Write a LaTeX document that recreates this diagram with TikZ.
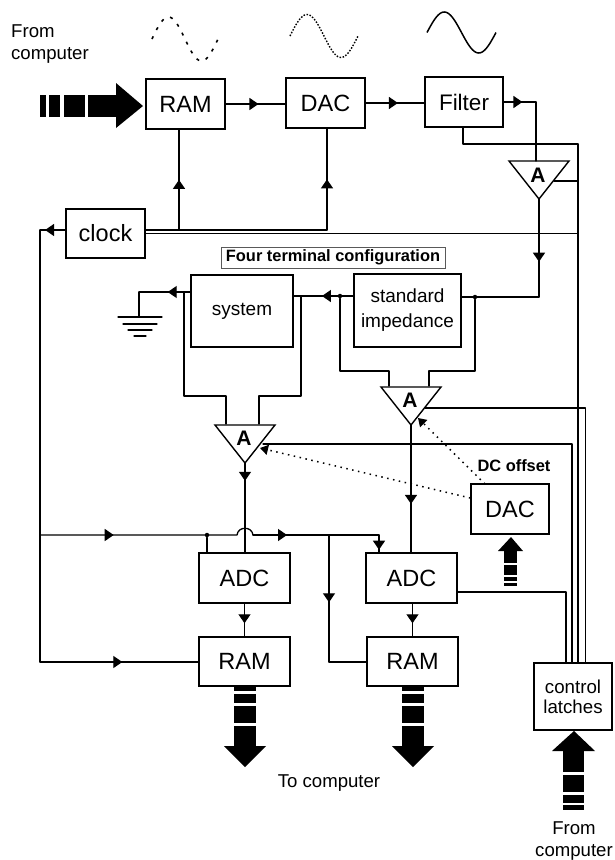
\documentclass[tikz,border=0pt]{standalone}
\usepackage{fontspec}
\setmainfont{Liberation Sans}
\usetikzlibrary{arrows.meta,decorations.markings,shapes.geometric}
\tikzset{
  wire/.style={line width=1.3pt,line cap=round,line join=round},
  arr/.style={postaction={decorate,decoration={markings,mark=at position #1 with {\arrow{Triangle[length=9pt,width=12pt]}}}}},
  blk/.style={draw,line width=1.4pt,inner sep=0pt,align=center,font=\fontsize{23.5}{25}\selectfont},
  sml/.style={blk,font=\fontsize{19}{25}\selectfont},
  amp/.style={draw,line width=1.4pt,isosceles triangle,isosceles triangle stretches,shape border rotate=-90,minimum width=60pt,minimum height=38pt,inner sep=0pt,outer sep=0pt,anchor=apex},
  dot/.style={circle,fill,inner sep=0pt,minimum size=4.5pt},
  lbl/.style={align=center,inner sep=0pt,font=\fontsize{18.6}{22}\selectfont},
  bold/.style={inner sep=0pt,font=\fontsize{16.4}{18}\selectfont\bfseries},
  ampl/.style={inner sep=0pt,font=\fontsize{21}{22}\selectfont\bfseries},
  dots/.style={line width=1.5pt,dash pattern=on 1.5pt off 4.5pt}
}
\begin{document}
\begin{tikzpicture}[x=1pt,y=-1pt]
\useasboundingbox (0,0) rectangle (615,860);

\node[lbl,anchor=west,align=left] (fc) at (11,44) {From\\computer};
\node[lbl] (tc) at (329,783) {To computer};
\node[lbl] (fl) at (574,841) {From\\computer};

\draw[line width=1.6pt,dash pattern=on 3pt off 7pt] plot[domain=152:218,samples=45] (\x,{39-22*sin((\x-152)/66*360)});
\draw[line width=1.4pt,dash pattern=on 1.5pt off 1.6pt] plot[domain=290:358,samples=45] (\x,{36-21.5*sin((\x-290)/68*360)});
\draw[line width=1.5pt] plot[domain=427:496,samples=45] (\x,{32.5-20.5*sin((\x-427)/69*360)});

\node[blk,minimum width=79pt,minimum height=50pt] (rama) at (185.5,104) {RAM};
\node[blk,minimum width=79pt,minimum height=50pt] (daca) at (325.5,103) {DAC};
\node[blk,minimum width=78pt,minimum height=50pt,font=\fontsize{22.5}{25}\selectfont] (filt) at (464,102) {Filter};
\node[blk,minimum width=79pt,minimum height=49pt] (clk) at (105.5,233.5) {clock};
\node[sml,minimum width=102pt,minimum height=72pt] (sys) at (242,311) {system};
\node[sml,minimum width=107pt,minimum height=73pt] (std) at (407.5,310.5) {standard\\impedance};
\node[blk,minimum width=78pt,minimum height=50pt] (dacb) at (510,509) {DAC};
\node[blk,minimum width=91pt,minimum height=50pt] (adca) at (244.5,578) {ADC};
\node[blk,minimum width=91pt,minimum height=49pt] (ramb) at (244.5,661.5) {RAM};
\node[blk,minimum width=91pt,minimum height=50pt] (adcb) at (411.5,578) {ADC};
\node[blk,minimum width=91pt,minimum height=49pt] (ramc) at (412.5,661.5) {RAM};
\node[blk,minimum width=78pt,minimum height=67pt,font=\fontsize{18.7}{20}\selectfont] (latch) at (573,696.5) {control\\latches};

\node[draw=black!65,line width=.6pt,inner sep=0pt,minimum width=224pt,minimum height=21pt,bold] (four) at (333,257.5) {Four terminal configuration};
\node[bold] (dco) at (514,466) {DC offset};

\node[amp] (ampf) at (539,199) {};
\node[amp] (amps) at (245,463) {};
\node[amp] (ampi) at (411,425) {};
\node[ampl] (af) at (538,175) {A};
\node[ampl] (as) at (244,438) {A};
\node[ampl] (ai) at (410,400) {A};

\coordinate (fo) at (536,102);
\coordinate (ft) at (536,161);
\coordinate (fb) at (463,144);
\coordinate (rr) at (578,144);
\coordinate (fg) at (554,181);
\coordinate (cl) at (327,230);
\coordinate (cr) at (179,230);
\coordinate (cs) at (145,233);
\coordinate (cw) at (40,230);
\coordinate (cd) at (40,662);
\coordinate (bus) at (40,535);
\coordinate (ao) at (539,297);
\node[dot] (di) at (475,297) {};
\node[dot] (dj) at (340,296) {};
\node[dot] (dk) at (207,535) {};

\draw[wire,arr=.55] (rama.east) -- (rama.east -| daca.west);
\draw[wire,arr=.55] (daca.east) -- (daca.east -| filt.west);
\draw[wire,arr=.58] (filt.east |- fo) -- (fo);
\draw[wire] (fo) -- (ft);
\draw[wire] (filt.south -| fb) -- (fb) -- (rr);
\draw[wire] (rr) -- (rr |- latch.north);
\draw[wire] (fg) -- (fg -| rr);

\draw[wire] (clk.east |- cl) -- (cl);
\draw[wire,arr=.5] (cl) -- (cl |- daca.south);
\draw[wire,arr=.5] (cr) -- (cr |- rama.south);
\draw[wire,line width=1pt] (cs) -- (cs -| rr);
\draw[wire,arr=.8] (clk.west |- cw) -- (cw);
\draw[wire] (cw) -- (cd);
\draw[wire,arr=.64] (ampf.apex) -- (ampf.apex |- ao);
\draw[wire] (ampf.apex |- ao) -- (std.east |- ao);

\coordinate (si) at (293,296);
\coordinate (so) at (139,292);
\coordinate (sg) at (139,317);
\draw[wire,arr=.52] (std.west |- si) -- (si);
\draw[wire,arr=.44] (sys.west |- so) -- (so);
\draw[wire] (so) -- (sg);
\coordinate (g1) at (118,317);
\coordinate (g2) at (162,317);
\coordinate (g3) at (123,324);
\coordinate (g4) at (157,324);
\coordinate (g5) at (128,330);
\coordinate (g6) at (152,330);
\coordinate (g7) at (134,336);
\coordinate (g8) at (146,336);
\foreach \a/\b in {g1/g2,g3/g4,g5/g6,g7/g8}
  \draw[wire] (\a) -- (\b);

\coordinate (ia) at (340,371);
\coordinate (ib) at (389,371);
\coordinate (ic) at (475,371);
\coordinate (id) at (429,371);
\draw[wire] (dj) -- (ia) -- (ib) -- (389,386);
\draw[wire] (di) -- (ic) -- (id) -- (429,386);

\coordinate (sa) at (184,292);
\coordinate (sb) at (184,396);
\coordinate (sc) at (226,396);
\coordinate (sd) at (301,296);
\coordinate (se) at (301,396);
\coordinate (sf) at (259,396);
\draw[wire] (sa) -- (sb) -- (sc) -- (226,424);
\draw[wire] (sd) -- (se) -- (sf) -- (259,424);

\coordinate (gi) at (425,408);
\coordinate (gs) at (263,444);
\coordinate (gj) at (585.5,408);
\coordinate (gt) at (572,444);
\draw[wire] (gi) -- (gj) -- (gj |- latch.north);
\draw[wire] (gs) -- (gt) -- (gt |- latch.north);

\coordinate (ds) at (260,448);
\coordinate (di2) at (418,418);
\coordinate (dt) at (485,484);
\draw[dots,-{Triangle[length=8pt,width=10pt]}] (dacb.west |- 0,498) -- (ds);
\draw[dots,-{Triangle[length=8pt,width=10pt]}] (dt) -- (di2);

\draw[wire,arr=.27] (amps.apex) -- (245,529);
\draw[wire] (245,529) -- (adca.north -| amps.apex);
\draw[wire,arr=.62] (ampi.apex) -- (ampi.apex |- adcb.north);
\draw[wire,arr=.6] (adca.south -| ramb.north) -- (ramb.north);
\draw[wire,arr=.6] (adcb.south -| ramc.north) -- (ramc.north);

\coordinate (hl) at (237,535);
\coordinate (hr) at (253,535);
\coordinate (ba) at (379,535);
\coordinate (bc) at (329,535);
\coordinate (be) at (329,662);
\draw[wire,arr=.335] (bus) -- (hl) .. controls (238,526) and (252,526) .. (hr);
\draw[wire,arr=.27] (hr) -- (ba);
\draw[wire,arr=.85] (ba) -- (ba |- adcb.north);
\draw[wire] (dk) -- (dk |- adca.north);
\draw[wire,arr=.53] (bc) -- (be);
\draw[wire] (be) -- (be -| ramc.west);
\draw[wire,arr=.52] (cd) -- (cd -| ramb.west);

\coordinate (ao2) at (566,592);
\draw[wire] (adcb.east |- ao2) -- (ao2) -- (ao2 |- latch.north);

% large data arrows
\foreach \a/\b in {40/46,49/60,64/85,88/117}
  \fill (\a,95) rectangle (\b,117);
\fill (116,83) -- (143,106) -- (116,128) -- cycle;

\foreach \c in {245,413} {
  \foreach \a/\b in {687/691,694/703,706/723,726/747}
    \fill (\c-11,\a) rectangle (\c+11,\b);
  \fill (\c-21,746) -- (\c+21,746) -- (\c,767) -- cycle;
}

\foreach \a/\b in {751/772,775/792,795/803,805/810}
  \fill (563,\a) rectangle (584,\b);
\fill (552,751) -- (595,751) -- (574,731) -- cycle;

\foreach \a/\b in {551/563,565/575,577/581,583/586}
  \fill (504,\a) rectangle (517,\b);
\fill (498,551) -- (523,551) -- (511,537) -- cycle;
\end{tikzpicture}
\end{document}
